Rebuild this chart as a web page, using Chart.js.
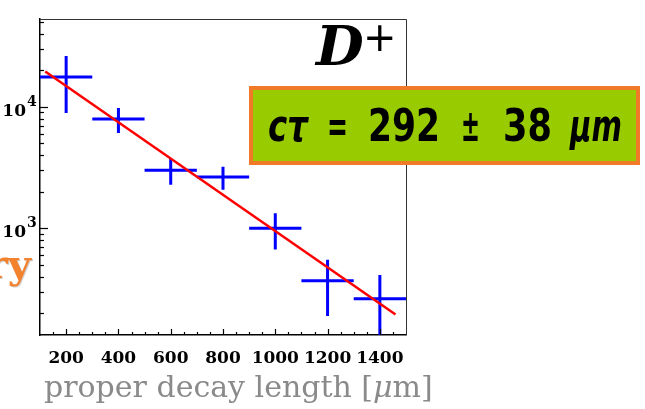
<!DOCTYPE html>
<html>
<head>
<meta charset="utf-8">
<script src="https://cdn.jsdelivr.net/npm/chart.js@4.4.1/dist/chart.umd.min.js"></script>
<style>
  html, body { margin: 0; padding: 0; background: #fff; }
  #wrap { width: 645px; height: 409px; position: relative; }
</style>
</head>
<body>
<div id="wrap"><canvas id="c" width="645" height="409"></canvas></div>
<script>
// D+ proper decay length distribution
const binCenters = [200, 400, 600, 800, 1000, 1200, 1400];
const binHalfWidth = [100, 100, 100, 100, 100, 100, 100];
const counts = [17600, 7950, 3010, 2650, 1000, 369, 262];
const countErr = [8700, 1850, 730, 570, 330, 180, 150];

// exponential fit (c tau = 292 um)
const fitX = [120, 1460];
const fitY = [19600, 195];

const xTickLabels = [200, 400, 600, 800, 1000, 1200, 1400];
const yTickLabels = [1000, 10000];
const xMinorStep = 50;

const serif = "'DejaVu Serif', serif";

const decor = {
  id: 'decor',
  beforeDatasetsDraw(chart) {
    const { ctx, chartArea: a, scales: { x, y } } = chart;
    ctx.save();
    ctx.beginPath();
    ctx.rect(a.left, a.top, a.right - a.left, a.bottom - a.top);
    ctx.clip();
    ctx.strokeStyle = '#0000ff';
    ctx.lineWidth = 3;
    binCenters.forEach((xc, i) => {
      const px = x.getPixelForValue(xc);
      const py = y.getPixelForValue(counts[i]);
      ctx.beginPath();
      ctx.moveTo(x.getPixelForValue(xc - binHalfWidth[i]), py);
      ctx.lineTo(x.getPixelForValue(xc + binHalfWidth[i]), py);
      ctx.moveTo(px, y.getPixelForValue(counts[i] + countErr[i]));
      ctx.lineTo(px, y.getPixelForValue(Math.max(counts[i] - countErr[i], 1)));
      ctx.stroke();
    });
    ctx.restore();
  },
  afterDraw(chart) {
    const { ctx, chartArea: a, scales: { x, y } } = chart;
    ctx.save();

    // frame top / right
    ctx.strokeStyle = '#333';
    ctx.lineWidth = 1;
    ctx.beginPath();
    ctx.moveTo(a.left, a.top + 0.5);
    ctx.lineTo(a.right + 0.5, a.top + 0.5);
    ctx.lineTo(a.right + 0.5, a.bottom);
    ctx.stroke();

    // x ticks (inside)
    ctx.strokeStyle = '#000';
    ctx.lineWidth = 1.2;
    for (let v = x.min + xMinorStep; v < x.max; v += xMinorStep) {
      const px = Math.round(x.getPixelForValue(v)) + 0.5;
      const len = v % 200 === 0 ? 6 : 3;
      ctx.beginPath();
      ctx.moveTo(px, a.bottom);
      ctx.lineTo(px, a.bottom - len);
      ctx.stroke();
    }
    // y log ticks (inside)
    for (let dec = 100; dec <= 100000; dec *= 10) {
      for (let m = 1; m <= 9; m++) {
        const v = m * dec;
        if (v <= y.min || v >= y.max) continue;
        const py = Math.round(y.getPixelForValue(v)) + 0.5;
        ctx.beginPath();
        ctx.moveTo(a.left, py);
        ctx.lineTo(a.left + (m === 1 ? 8 : 4), py);
        ctx.stroke();
      }
    }

    // y labels 10^n
    ctx.fillStyle = '#000';
    yTickLabels.forEach(v => {
      const py = y.getPixelForValue(v);
      ctx.font = 'bold 17px ' + serif;
      ctx.textAlign = 'right';
      ctx.textBaseline = 'alphabetic';
      ctx.fillText('10', 26, py + 9);
      ctx.font = 'bold 14px ' + serif;
      ctx.textAlign = 'left';
      ctx.fillText(String(Math.round(Math.log10(v))), 27, py - 1);
    });

    // D+
    ctx.font = 'italic bold 55px ' + serif;
    ctx.textAlign = 'left';
    ctx.fillText('D', 316, 65);
    ctx.font = "40px 'DejaVu Sans', sans-serif";
    ctx.fillText('+', 363, 51);

    // axis title
    ctx.fillStyle = '#8a8a8a';
    ctx.font = '30px ' + serif;
    let tx = 44;
    const t1 = 'proper decay length [';
    ctx.fillText(t1, tx, 397);
    tx += ctx.measureText(t1).width;
    ctx.font = 'italic 30px ' + serif;
    ctx.fillText('\u03bc', tx, 397);
    tx += ctx.measureText('\u03bc').width;
    ctx.font = '30px ' + serif;
    ctx.fillText('m]', tx, 397);

    // clipped orange word on the left
    ctx.font = 'bold 40px ' + serif;
    ctx.textAlign = 'right';
    ctx.fillStyle = '#d0d0d0';
    ctx.fillText('ry', 32, 279);
    ctx.fillStyle = '#f2822e';
    ctx.fillText('ry', 31, 277.5);

    // result box
    ctx.fillStyle = '#f07a28';
    ctx.fillRect(249, 86, 391, 79);
    ctx.fillStyle = '#99cc00';
    ctx.fillRect(253, 90, 383, 71);
    ctx.fillStyle = '#000';
    ctx.textAlign = 'left';
    const boxFont = "'DejaVu Sans', sans-serif";
    const parts = [
      ['c\u03c4', 268, 40, 'italic bold'],
      ['=', 327, 21, 'bold'],
      ['292', 368, 72, 'bold'],
      ['\u00b1', 461, 19, 'bold'],
      ['38', 503, 49, 'bold'],
      ['\u03bcm', 570, 52, 'italic bold']
    ];
    parts.forEach(([s, px, w, st]) => {
      ctx.font = st + ' 44px ' + boxFont;
      ctx.fillText(s, px, 141, w);
    });

    ctx.restore();
  }
};

new Chart(document.getElementById('c'), {
  type: 'scatter',
  data: {
    datasets: [
      {
        data: binCenters.map((v, i) => ({ x: v, y: counts[i] })),
        pointRadius: 0,
        showLine: false
      },
      {
        type: 'line',
        data: fitX.map((v, i) => ({ x: v, y: fitY[i] })),
        borderColor: '#ff0000',
        borderWidth: 2.5,
        pointRadius: 0,
        fill: false,
        tension: 0
      }
    ]
  },
  options: {
    responsive: false,
    animation: false,
    events: [],
    layout: { padding: { left: 0, right: 239, top: 19, bottom: 0 } },
    plugins: { legend: { display: false }, tooltip: { enabled: false } },
    scales: {
      x: {
        type: 'linear',
        min: 100,
        max: 1500,
        grid: { display: false },
        border: { display: true, color: '#000', width: 1.5 },
        afterBuildTicks: s => { s.ticks = xTickLabels.map(v => ({ value: v })); },
        afterFit: s => { s.height = 74; },
        ticks: {
          color: '#000',
          padding: 5,
          maxRotation: 0,
          autoSkip: false,
          callback: v => String(v),
          font: { family: 'DejaVu Serif', weight: 'bold', size: 17 }
        }
      },
      y: {
        type: 'logarithmic',
        min: 132,
        max: 53000,
        grid: { display: false },
        border: { display: true, color: '#000', width: 1.5 },
        afterFit: s => { s.width = 40; },
        ticks: { display: false }
      }
    }
  },
  plugins: [decor]
});
</script>
</body>
</html>
